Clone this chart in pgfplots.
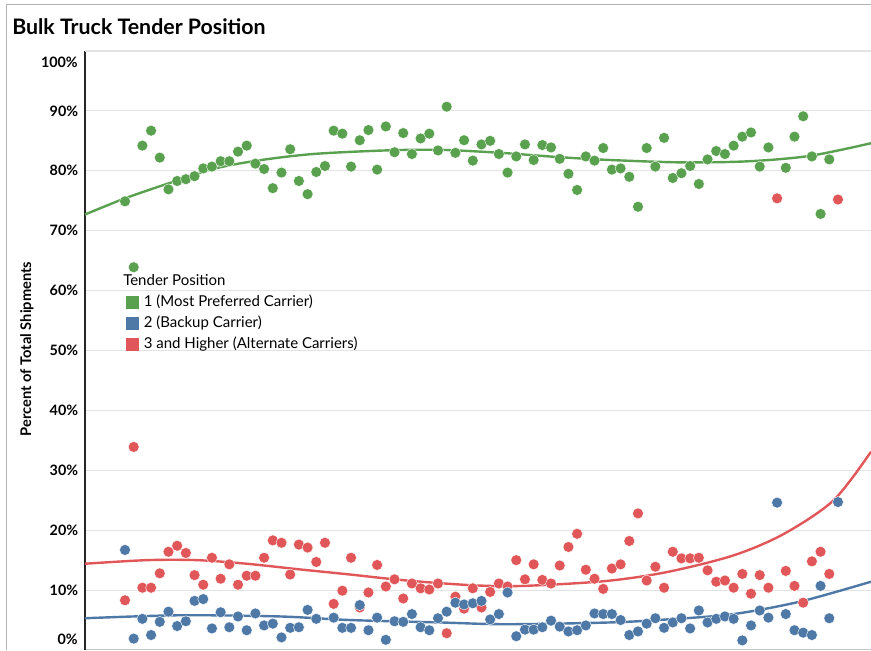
\documentclass[border=0pt]{standalone}
\usepackage{pgfplots}
\pgfplotsset{compat=1.18}
\usepackage{pgfplotstable}
\usepackage{fontspec}
\setmainfont{Lato}
\definecolor{tgreen}{HTML}{59A14F}
\definecolor{tblue}{HTML}{4E79A7}
\definecolor{tred}{HTML}{E15759}

\pgfplotstableread{
idx green blue red
0 74.9 16.7 8.3
1 63.9 1.9 33.9
2 84.2 5.2 10.4
3 86.7 2.5 10.4
4 82.2 4.7 12.8
5 76.9 6.4 16.4
6 78.3 4.0 17.4
7 78.6 4.8 16.2
8 79.1 8.2 12.5
9 80.4 8.5 10.9
10 80.7 3.6 15.4
11 81.6 6.3 11.9
12 81.6 3.8 14.3
13 83.2 5.6 10.9
14 84.2 3.3 12.4
15 81.2 6.1 12.4
16 80.3 4.1 15.4
17 77.1 4.4 18.3
18 79.7 2.1 17.9
19 83.6 3.7 12.6
20 78.3 3.8 17.6
21 76.1 6.7 17.1
22 79.8 5.2 14.7
23 80.8 nan 17.9
24 86.7 5.4 7.7
25 86.2 3.7 9.9
26 80.7 3.7 15.4
27 85.1 7.5 7.1
28 86.8 3.3 9.6
29 80.2 5.4 14.2
30 87.4 1.7 10.6
31 83.1 4.8 11.8
32 86.3 4.7 8.6
33 82.8 6.0 11.1
34 85.4 3.8 10.3
35 86.2 3.3 10.1
36 83.4 5.3 11.1
37 90.7 6.4 2.8
38 83.0 7.9 8.9
39 85.1 7.6 6.9
40 81.7 7.8 10.3
41 84.4 8.2 7.1
42 85.0 5.1 9.7
43 82.8 6.0 11.1
44 79.7 9.6 10.6
45 82.4 2.3 15.0
46 84.4 3.4 11.8
47 81.8 3.4 14.3
48 84.3 3.8 11.7
49 83.9 4.9 11.1
50 82.0 3.9 14.1
51 79.5 3.1 17.2
52 76.8 3.3 19.4
53 82.4 4.1 13.4
54 81.7 6.1 11.9
55 83.8 6.0 10.2
56 80.2 6.0 13.6
57 80.4 5.0 14.3
58 79.0 2.5 18.2
59 74.0 3.1 22.8
60 83.8 4.4 11.6
61 80.7 5.3 13.9
62 85.5 3.7 10.4
63 78.8 4.6 16.4
64 79.6 5.3 15.3
65 80.8 3.6 15.3
66 77.8 6.6 15.4
67 81.9 4.6 13.3
68 83.3 5.2 11.4
69 82.8 5.6 11.6
70 84.2 5.2 10.4
71 85.7 1.6 12.7
72 86.4 4.1 9.4
73 80.7 6.6 12.5
74 83.9 5.4 10.4
75 nan 24.6 75.4
76 80.5 6.0 13.2
77 85.7 3.3 10.7
78 89.1 2.9 7.9
79 82.4 2.5 14.8
80 72.8 10.7 16.4
81 81.9 5.3 12.7
82 nan 24.7 75.2
}\data

\begin{document}
\begin{tikzpicture}[x=0.75pt,y=0.75pt]
\useasboundingbox (0,0) rectangle (871,650);
\draw[gray!60, line width=0.75pt] (6,0) -- (6,645) -- (871,645);
\node[anchor=base west, inner sep=0pt, font=\fontsize{16}{19}\selectfont\bfseries] at (12,615) {Bulk Truck Tender Position};
\node[rotate=90, inner sep=0pt, font=\fontsize{11}{13}\selectfont\bfseries] at (27,301) {Percent of Total Shipments};
\node[anchor=east, inner sep=0pt, font=\fontsize{10.75}{13}\selectfont\bfseries] at (78,588) {100\%};
\node[anchor=east, inner sep=0pt, font=\fontsize{10.75}{13}\selectfont\bfseries] at (78,11) {0\%};
\node[anchor=west, inner sep=0pt, font=\fontsize{11.25}{13}\selectfont] at (123,370) {Tender Position};
\begin{axis}[
  at={(63.75pt,0pt)}, anchor=south west,
  scale only axis, width=589.5pt, height=449.25pt,
  xmin=-4.6, xmax=85.8, ymin=0, ymax=100,
  axis x line*=bottom, axis y line*=left,
  x axis line style={-, gray!45, line width=0.75pt},
  y axis line style={-, black!85, line width=0.9pt},
  xtick=\empty,
  ytick={10,20,...,90},
  extra y ticks={100},
  extra y tick labels={},
  yticklabel={\pgfmathprintnumber{\tick}\%},
  yticklabel style={font=\fontsize{10.75}{13}\selectfont\bfseries, anchor=east, inner sep=0pt, xshift=-5pt},
  /pgf/number format/assume math mode=true,
  major tick length=0pt,
  ymajorgrids, extra y tick style={grid=major},
  grid style={gray!22, line width=0.8pt},
  clip=false,
  legend style={at={(rel axis cs:0.0522,0.5927)}, anchor=north west, draw=none, fill=none,
    inner sep=0pt, row sep=5.25pt, column sep=3.75pt,
    nodes={inner sep=0pt, text height=8.5pt, text depth=2pt, font=\fontsize{11.25}{13}\selectfont},
    cells={anchor=west}},
]
\addplot[only marks, mark=*, mark size=4.1pt, mark options={fill=tred, draw=white, line width=0.3pt}, forget plot] table[x=idx, y=red] {\data};
\addplot[only marks, mark=*, mark size=4.1pt, mark options={fill=tblue, draw=white, line width=0.3pt}, forget plot] table[x=idx, y=blue] {\data};
\addplot[only marks, mark=*, mark size=4.1pt, mark options={fill=tgreen, draw=white, line width=0.3pt}, forget plot] table[x=idx, y=green] {\data};
% trend lines
\addplot[tgreen, line width=1.8pt, smooth, forget plot] coordinates {(-4.6,72.7) (0,75.4) (5,77.9) (10.1,80.3) (15.2,81.7) (21.6,82.8) (30,83.4) (36.2,83.5) (43.2,83.0) (49.7,82.3) (55.8,81.8) (64.2,81.4) (71.9,81.6) (78.8,82.5) (85.8,84.6)};
\addplot[tred, line width=1.8pt, smooth, forget plot] coordinates {(-4.6,14.4) (2.5,15.0) (8.3,15.0) (14,14.4) (19.8,13.5) (25.9,12.6) (32.4,11.6) (40.1,10.8) (45.8,10.7) (55.2,11.5) (62.3,13.0) (70,15.8) (75.8,19.4) (81.5,25.0) (85.8,33.1)};
\addplot[tblue, line width=1.8pt, smooth, forget plot] coordinates {(-4.6,5.3) (6.3,5.8) (17.8,5.6) (25.9,5.0) (36.2,4.6) (43.9,4.3) (55.8,4.6) (62.3,5.1) (70,6.0) (77.7,8.1) (85.8,11.4)};
\addlegendimage{legend image code/.code={\fill[tgreen] (0pt,-4.5pt) rectangle (9pt,4.5pt);}}
\addlegendentry{1 (Most Preferred Carrier)}
\addlegendimage{legend image code/.code={\fill[tblue] (0pt,-4.5pt) rectangle (9pt,4.5pt);}}
\addlegendentry{2 (Backup Carrier)}
\addlegendimage{legend image code/.code={\fill[tred] (0pt,-4.5pt) rectangle (9pt,4.5pt);}}
\addlegendentry{3 and Higher (Alternate Carriers)}
\end{axis}
\end{tikzpicture}
\end{document}
